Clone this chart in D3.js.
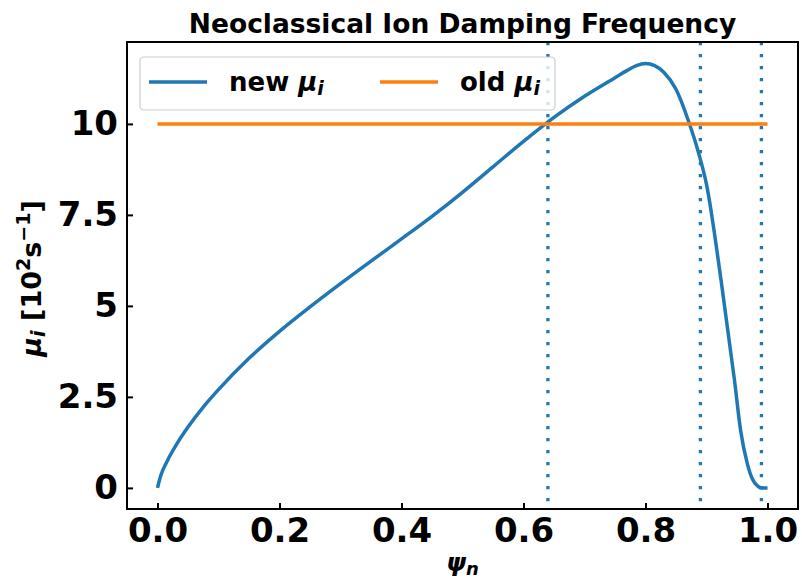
<!DOCTYPE html>
<html>
  <head>
    <meta charset="utf-8" />
    <title>Neoclassical Ion Damping Frequency</title>
    <script src="https://d3js.org/d3.v7.min.js"></script>
    <style>
      body { margin: 0; background: white; }
      text { font-family: "DejaVu Sans", sans-serif; font-weight: bold; fill: black; }
    </style>
  </head>
  <body>
    <svg id="chart" width="802" height="579"></svg>

    <script>
    // values
    var psi = [0, 0.005, 0.016, 0.03, 0.05, 0.075, 0.1, 0.15, 0.2, 0.25, 0.3, 0.35,
               0.4, 0.45, 0.5, 0.55, 0.6, 0.65, 0.7, 0.75, 0.77, 0.785, 0.8, 0.815,
               0.83, 0.85, 0.87, 0.886, 0.9, 0.924, 0.946, 0.956, 0.967, 0.975, 0.984,
               0.99, 1.0];
    var muNew = [0, 0.32, 0.74, 1.16, 1.67, 2.22, 2.7, 3.56, 4.3, 4.97, 5.61, 6.23,
                 6.84, 7.46, 8.12, 8.82, 9.52, 10.18, 10.76, 11.27, 11.47, 11.6, 11.66, 11.6,
                 11.42, 10.95, 10.1, 9.26, 8.34, 5.69, 2.94, 1.57, 0.66, 0.25, 0.05,
                 0.0, 0.0];
    var oldPsi = [0, 1];
    var muOld = [10, 10];
    var markers = [0.64, 0.89, 0.99];
    var xTicks = [0, 0.2, 0.4, 0.6, 0.8, 1.0];
    var yTicks = [0, 2.5, 5, 7.5, 10];
    var yTickLabels = ["0", "2.5", "5", "7.5", "10"];

    var blue = "#1f77b4", orange = "#ff7f0e";
    // plot box (named so as not to clash with window.top)
    var boxL = 127, boxR = 798, boxT = 42, boxB = 509;

    var svg = d3.select("#chart");

    var x = d3.scaleLinear().domain([-0.05, 1.05]).range([boxL, boxR]);
    var y = d3.scaleLinear().domain([-0.58, 12.25]).range([boxB, boxT]);

    // writes a small piece of mathtext as tspans
    function richText(sel, parts) {
        parts.forEach(function(p) {
            var t = sel.append("tspan").text(p.t);
            if (p.it) t.style("font-style", "italic");
            if (p.size) t.attr("font-size", p.size);
            if (p.dy) t.attr("dy", p.dy);
        });
        return sel;
    }

    var plot = svg.append("g");

    var line = d3.line()
        .x(function(d) { return x(d[0]); })
        .y(function(d) { return y(d[1]); })
        .curve(d3.curveMonotoneX);

    plot.append("path")
        .datum(d3.zip(psi, muNew))
        .attr("d", line)
        .attr("fill", "none").attr("stroke", blue)
        .attr("stroke-width", 3.5).attr("stroke-linejoin", "round");

    plot.append("path")
        .datum(d3.zip(oldPsi, muOld))
        .attr("d", d3.line().x(function(d) { return x(d[0]); }).y(function(d) { return y(d[1]); }))
        .attr("fill", "none").attr("stroke", orange).attr("stroke-width", 3.5);

    plot.selectAll(".vline").data(markers).enter().append("line")
        .attr("class", "vline")
        .attr("x1", x).attr("x2", x)
        .attr("y1", boxT).attr("y2", boxB)
        .attr("stroke", blue).attr("stroke-width", 3.3)
        .attr("stroke-dasharray", "3.3 8.7");

    // axes, ticks pointing inward
    var xAxis = svg.append("g").attr("transform", "translate(0," + boxB + ")")
        .call(d3.axisBottom(x).tickValues(xTicks).tickFormat(d3.format(".1f"))
              .tickSizeInner(-6).tickSizeOuter(0).tickPadding(9));
    var yAxis = svg.append("g").attr("transform", "translate(" + boxL + ",0)")
        .call(d3.axisLeft(y).tickValues(yTicks)
              .tickFormat(function(d, i) { return yTickLabels[i]; })
              .tickSizeInner(-6).tickSizeOuter(0).tickPadding(9));
    [xAxis, yAxis].forEach(function(a) {
        a.select(".domain").remove();
        a.selectAll(".tick line").attr("stroke", "black").attr("stroke-width", 2);
        a.selectAll(".tick text").attr("font-size", 34)
            .style("font-family", "DejaVu Sans").style("font-weight", "bold").attr("fill", "black");
    });

    svg.append("rect")
        .attr("x", boxL).attr("y", boxT)
        .attr("width", boxR - boxL).attr("height", boxB - boxT)
        .attr("fill", "none").attr("stroke", "black").attr("stroke-width", 2);

    // legend
    var lg = svg.append("g");
    lg.append("rect").attr("x", 140).attr("y", 57).attr("width", 415).attr("height", 53)
        .attr("rx", 4).attr("fill", "white").attr("fill-opacity", 0.8)
        .attr("stroke", "#cccccc").attr("stroke-width", 1.2);
    var entries = [{c: blue, name: "new ", x0: 149}, {c: orange, name: "old ", x0: 380}];
    entries.forEach(function(e) {
        lg.append("line").attr("x1", e.x0).attr("x2", e.x0 + 58)
            .attr("y1", 82).attr("y2", 82)
            .attr("stroke", e.c).attr("stroke-width", 3.5);
        richText(lg.append("text").attr("x", e.x0 + 80).attr("y", 91).attr("font-size", 26), [
            {t: e.name}, {t: "\u03bc", it: true}, {t: "i", it: true, size: 19, dy: 4}
        ]);
    });

    // title and labels
    svg.append("text").attr("x", (boxL + boxR) / 2).attr("y", 33)
        .attr("text-anchor", "middle").attr("font-size", 26.5)
        .text("Neoclassical Ion Damping Frequency");

    richText(svg.append("text").attr("text-anchor", "middle").attr("font-size", 27)
        .attr("transform", "translate(41," + ((boxT + boxB) / 2 + 3) + ") rotate(-90)"), [
        {t: "\u03bc", it: true}, {t: "i", it: true, size: 19, dy: 4},
        {t: " [10", dy: -4}, {t: "2", size: 19, dy: -11}, {t: "s", dy: 11},
        {t: "\u22121", size: 19, dy: -11}, {t: "]", dy: 11}
    ]);

    richText(svg.append("text").attr("x", (boxL + boxR) / 2).attr("y", 571)
        .attr("text-anchor", "middle").attr("font-size", 25), [
        {t: "\u03c8", it: true}, {t: "n", it: true, size: 18, dy: 4}
    ]);
    </script>
  </body>
</html>
